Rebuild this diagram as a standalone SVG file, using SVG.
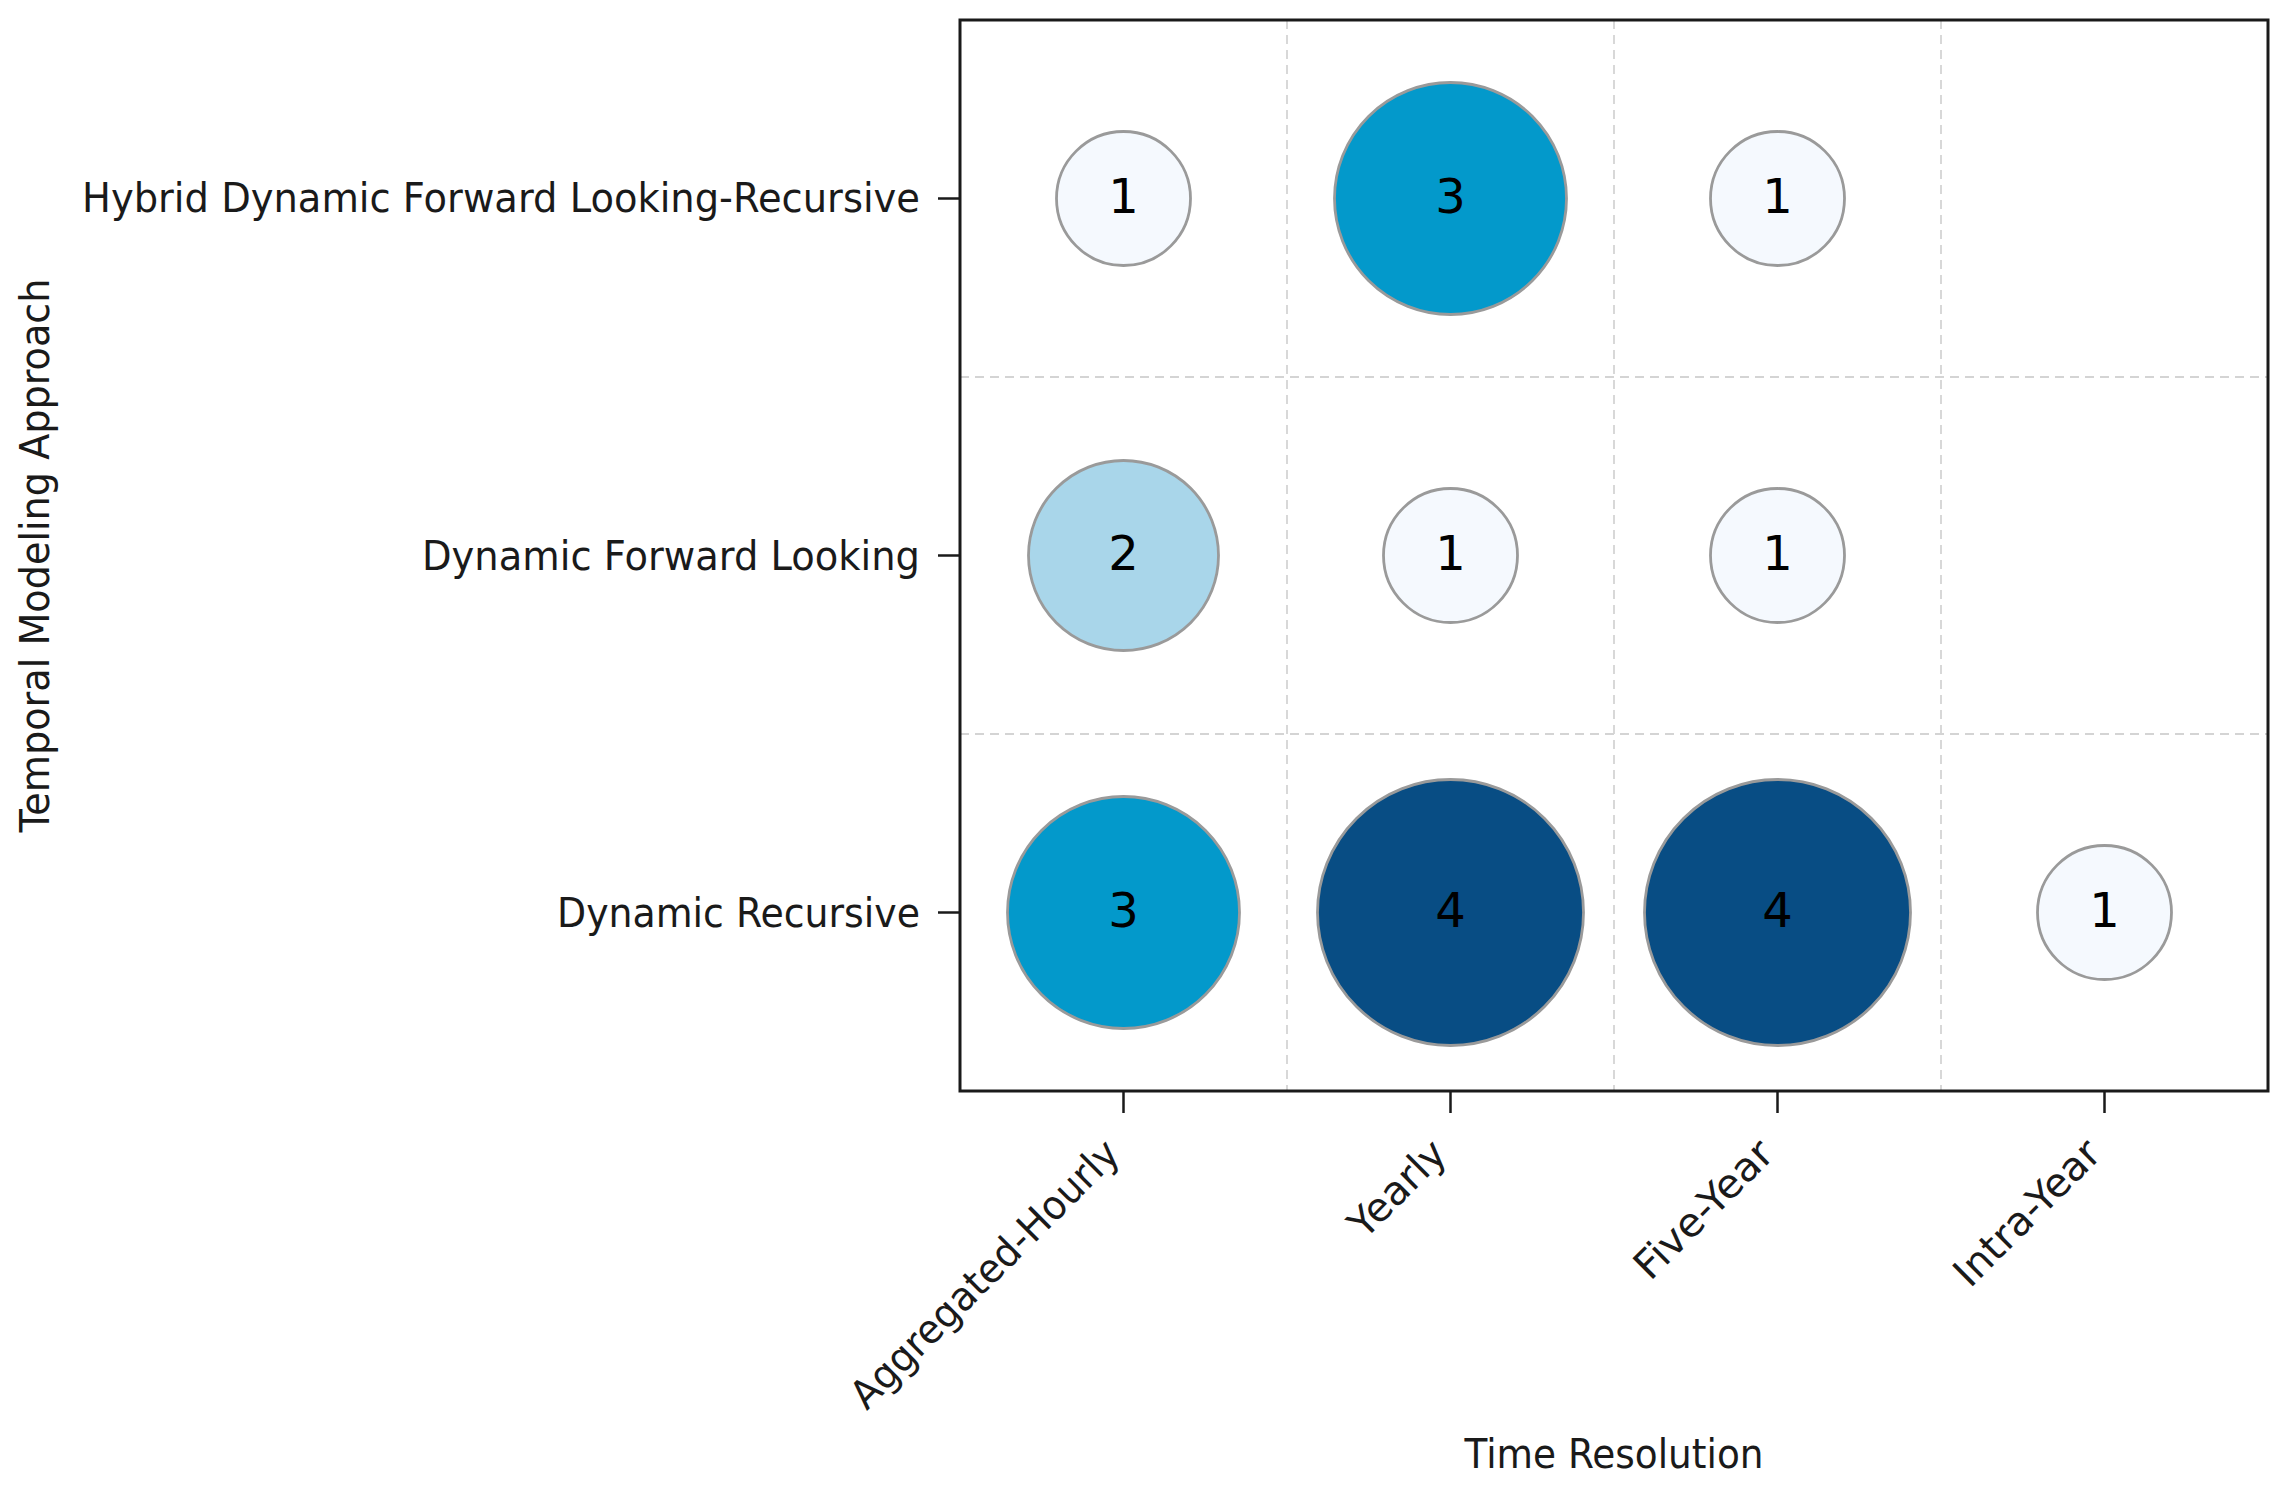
<svg xmlns="http://www.w3.org/2000/svg" width="2288" height="1491" viewBox="0 0 2288 1491">
<style>
  text { font-family: "DejaVu Sans", "Liberation Sans", sans-serif; fill: #1a1a1a; }
  .tick { font-size: 40px; }
  .axlabel { font-size: 40px; }
  .num { font-size: 48px; text-anchor: middle; fill: #000; }
  .grid { stroke: #d4d4d4; stroke-width: 1.8; stroke-dasharray: 9 6; fill: none; }
  .frame { stroke: #1a1a1a; stroke-width: 3; fill: none; }
  .tk { stroke: #1a1a1a; stroke-width: 2.5; }
  .b { stroke: #9a9a9a; stroke-width: 2.8; }
  .c1 { fill: #f5f9fe; }
  .c2 { fill: #a9d6ea; }
  .c3 { fill: #0399cb; }
  .c4 { fill: #084d84; }
</style>
<rect x="0" y="0" width="2288" height="1491" fill="#ffffff"/>

<g id="grid">
  <line class="grid" x1="1287" y1="20" x2="1287" y2="1091"/>
  <line class="grid" x1="1614" y1="20" x2="1614" y2="1091"/>
  <line class="grid" x1="1941" y1="20" x2="1941" y2="1091"/>
  <line class="grid" x1="960" y1="377" x2="2268" y2="377"/>
  <line class="grid" x1="960" y1="734" x2="2268" y2="734"/>
</g>

<g id="bubbles">
  <g id="b-hyb-agg"><circle class="b c1" cx="1123.5" cy="198.5" r="67"/><text class="num" x="1123.5" y="212.5">1</text></g>
  <g id="b-hyb-yr"><circle class="b c3" cx="1450.5" cy="198.5" r="116"/><text class="num" x="1450.5" y="212.5">3</text></g>
  <g id="b-hyb-5y"><circle class="b c1" cx="1777.5" cy="198.5" r="67"/><text class="num" x="1777.5" y="212.5">1</text></g>

  <g id="b-dfl-agg"><circle class="b c2" cx="1123.5" cy="555.5" r="95"/><text class="num" x="1123.5" y="569.5">2</text></g>
  <g id="b-dfl-yr"><circle class="b c1" cx="1450.5" cy="555.5" r="67"/><text class="num" x="1450.5" y="569.5">1</text></g>
  <g id="b-dfl-5y"><circle class="b c1" cx="1777.5" cy="555.5" r="67"/><text class="num" x="1777.5" y="569.5">1</text></g>

  <g id="b-dr-agg"><circle class="b c3" cx="1123.5" cy="912.5" r="116"/><text class="num" x="1123.5" y="926.5">3</text></g>
  <g id="b-dr-yr"><circle class="b c4" cx="1450.5" cy="912.5" r="133"/><text class="num" x="1450.5" y="926.5">4</text></g>
  <g id="b-dr-5y"><circle class="b c4" cx="1777.5" cy="912.5" r="133"/><text class="num" x="1777.5" y="926.5">4</text></g>
  <g id="b-dr-iy"><circle class="b c1" cx="2104.5" cy="912.5" r="67"/><text class="num" x="2104.5" y="926.5">1</text></g>
</g>

<g id="axes">
  <rect class="frame" x="960" y="20" width="1308" height="1071"/>
  <line class="tk" x1="938" y1="198.5" x2="960" y2="198.5"/>
  <line class="tk" x1="938" y1="555.5" x2="960" y2="555.5"/>
  <line class="tk" x1="938" y1="912.5" x2="960" y2="912.5"/>
  <line class="tk" x1="1123.5" y1="1091" x2="1123.5" y2="1113"/>
  <line class="tk" x1="1450.5" y1="1091" x2="1450.5" y2="1113"/>
  <line class="tk" x1="1777.5" y1="1091" x2="1777.5" y2="1113"/>
  <line class="tk" x1="2104.5" y1="1091" x2="2104.5" y2="1113"/>
</g>

<g id="ytick-labels">
  <text class="tick" x="920" y="212" text-anchor="end" textLength="838" lengthAdjust="spacingAndGlyphs">Hybrid Dynamic Forward Looking-Recursive</text>
  <text class="tick" x="920" y="570" text-anchor="end" textLength="498" lengthAdjust="spacingAndGlyphs">Dynamic Forward Looking</text>
  <text class="tick" x="920" y="927" text-anchor="end" textLength="363" lengthAdjust="spacingAndGlyphs">Dynamic Recursive</text>
</g>

<g id="xtick-labels">
  <text class="tick" x="1122" y="1156" text-anchor="end" transform="rotate(-45 1122 1156)" textLength="361" lengthAdjust="spacingAndGlyphs">Aggregated-Hourly</text>
  <text class="tick" x="1449" y="1156" text-anchor="end" transform="rotate(-45 1449 1156)" textLength="119" lengthAdjust="spacingAndGlyphs">Yearly</text>
  <text class="tick" x="1776" y="1156" text-anchor="end" transform="rotate(-45 1776 1156)" textLength="178" lengthAdjust="spacingAndGlyphs">Five-Year</text>
  <text class="tick" x="2103" y="1156" text-anchor="end" transform="rotate(-45 2103 1156)" textLength="188" lengthAdjust="spacingAndGlyphs">Intra-Year</text>
</g>

<g id="axis-titles">
  <text class="axlabel" x="1614" y="1468" text-anchor="middle" textLength="299" lengthAdjust="spacingAndGlyphs">Time Resolution</text>
  <text class="axlabel" x="49" y="555.5" text-anchor="middle" transform="rotate(-90 49 555.5)" textLength="554" lengthAdjust="spacingAndGlyphs">Temporal Modeling Approach</text>
</g>
</svg>
